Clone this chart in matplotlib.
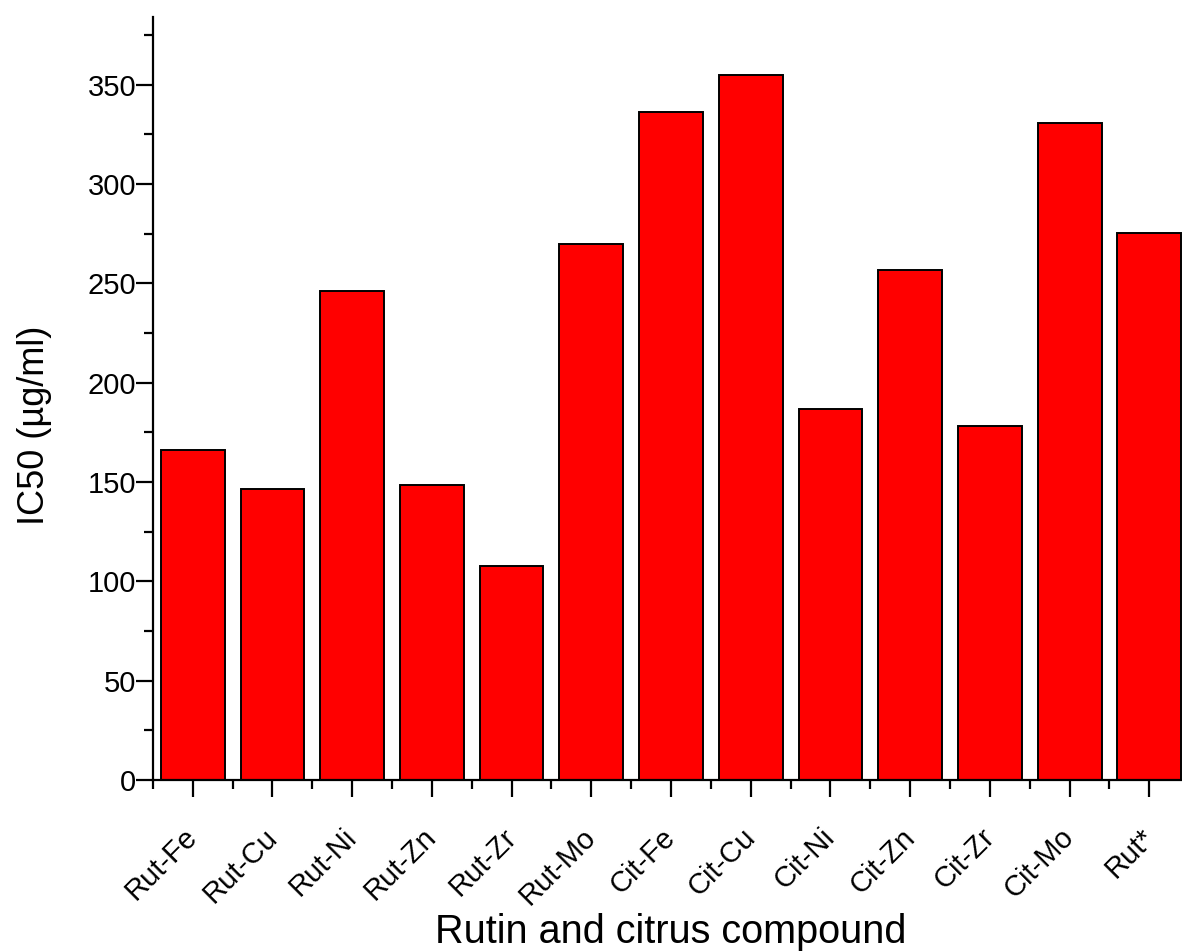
import numpy as np
import matplotlib.pyplot as plt
import matplotlib.transforms as mtransforms
from matplotlib.ticker import MultipleLocator, FixedLocator

plt.rcParams['font.family'] = ['Liberation Sans', 'DejaVu Sans']

# IC50 values for each compound
compounds = ['Rut-Fe', 'Rut-Cu', 'Rut-Ni', 'Rut-Zn', 'Rut-Zr', 'Rut-Mo',
             'Cit-Fe', 'Cit-Cu', 'Cit-Ni', 'Cit-Zn', 'Cit-Zr', 'Cit-Mo', 'Rut*']
ic50 = [166, 146.5, 246, 148.5, 107.5, 269.5, 336, 355, 186.5, 256.5, 178, 330.5, 275.5]

fig = plt.figure(figsize=(11.82, 9.52), dpi=100)
ax = fig.add_axes([0.1293, 0.1807, 0.8768, 0.8015])

x = np.arange(len(compounds))
ax.bar(x, ic50, width=0.8, color='#ff0000', edgecolor='black', linewidth=1.4)

ax.set_xlim(-0.5, len(compounds) - 0.5)
ax.set_ylim(0, 384)

ax.spines['top'].set_visible(False)
ax.spines['right'].set_visible(False)
ax.spines['left'].set_linewidth(1.6)
ax.spines['bottom'].set_linewidth(1.6)

ax.set_xticks(x)
ax.set_xticklabels(compounds, rotation=45, ha='right', rotation_mode='anchor')
ax.xaxis.set_minor_locator(FixedLocator(np.arange(-0.5, len(compounds), 1.0)))
ax.yaxis.set_major_locator(MultipleLocator(50))
ax.yaxis.set_minor_locator(MultipleLocator(25))

ax.tick_params(axis='both', which='major', direction='out', length=12, width=1.6)
ax.tick_params(axis='y', which='major', labelsize=21, pad=0)
ax.tick_params(axis='x', which='major', labelsize=21, pad=19)
ax.tick_params(axis='both', which='minor', direction='out', length=6.5, width=1.6)

# nudge the slanted category labels to the left
shift = mtransforms.ScaledTranslation(-7 / 72, 0, fig.dpi_scale_trans)
for lbl in ax.get_xticklabels():
    lbl.set_transform(lbl.get_transform() + shift)

ax.set_ylabel('IC50 (µg/ml)', fontsize=26)
ax.yaxis.set_label_coords(-0.097, 0.465)

ax.set_xlabel('Rutin and citrus compound', fontsize=28.5)
ax.xaxis.set_label_coords(0.5, -0.214)
ax.xaxis.label.set_verticalalignment('baseline')

fig.savefig('out.png', dpi=100)
